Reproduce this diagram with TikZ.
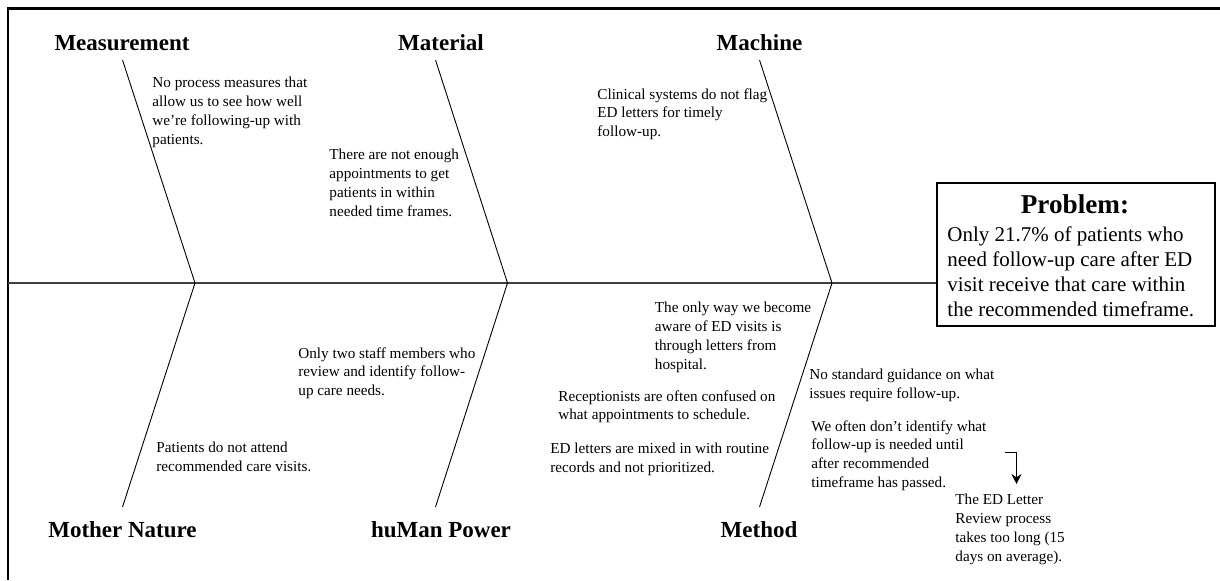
\documentclass[tikz,border=0pt]{standalone}
\usepackage{fontspec}
\setmainfont{Liberation Serif}
\usetikzlibrary{arrows.meta}
\begin{document}
\begin{tikzpicture}[x=0.5pt,y=-0.5pt,
  head/.style={font=\fontsize{11.5}{14}\selectfont\bfseries, inner sep=0pt, anchor=base},
  cause/.style={font=\fontsize{7.6}{9.35}\selectfont, align=left, anchor=north west, inner sep=0pt},
  bone/.style={line width=0.45pt},
  spine/.style={line width=0.7pt, draw=black!75},
  frame/.style={line width=1.1pt},
  probbox/.style={draw, line width=0.75pt, minimum width=139pt, minimum height=71.5pt, inner sep=0pt, anchor=north west},
  probhead/.style={font=\fontsize{13.6}{16}\selectfont\bfseries, inner sep=0pt, anchor=base},
  probtext/.style={font=\fontsize{10.5}{12.5}\selectfont, align=left, anchor=north west, inner sep=0pt},
  elbow/.style={line width=0.9pt, -{Stealth[length=5pt,width=5pt]}},
]
\useasboundingbox (0,0) rectangle (1220,580);

% frame (top and left edges)
\coordinate (ftl) at (8,8.5);
\coordinate (ftr) at (1220,8.5);
\coordinate (fbl) at (8,580);
\draw[frame] (ftr) -- (ftl) -- (fbl);

% problem box
\node[probbox] (prob) at (936,182) {};
\node[probhead] (probh) at (1075,213) {Problem:};
\node[probtext] (probt) at (947,226.5) {Only 21.7\% of patients who\\need follow-up care after ED\\visit receive that care within\\the recommended timeframe.};

% spine
\coordinate (tail) at (8,283);
\draw[spine] (tail) -- (tail -| prob.west);

% bone joints on the spine
\coordinate (j1) at (195,283);
\coordinate (j2) at (507.5,283);
\coordinate (j3) at (832,283);
% bone ends
\coordinate (t1) at (122.5,60);
\coordinate (t2) at (435.5,60);
\coordinate (t3) at (759.5,60);
\coordinate (b1) at (122.5,507);
\coordinate (b2) at (435.5,507);
\coordinate (b3) at (759.5,507);

\draw[bone] (t1) -- (j1) -- (b1);
\draw[bone] (t2) -- (j2) -- (b2);
\draw[bone] (t3) -- (j3) -- (b3);

% category headings
\node[head] (hmeas) at (122,50) {Measurement};
\node[head] (hmat) at (441,50) {Material};
\node[head] (hmach) at (759.5,50) {Machine};
\node[head] (hnat) at (122.5,537) {Mother Nature};
\node[head] (hman) at (441,537) {huMan Power};
\node[head] (hmeth) at (759,537) {Method};

% causes
\node[cause] (c1) at (152,77) {No process measures that\\allow us to see how well\\we’re following-up with\\patients.};
\node[cause] (c2) at (329,149) {There are not enough\\appointments to get\\patients in within\\needed time frames.};
\node[cause] (c3) at (597,88) {Clinical systems do not flag\\ED letters for timely\\follow-up.};
\node[cause] (c4) at (298,347) {Only two staff members who\\review and identify follow-\\up care needs.};
\node[cause] (c5) at (156,442) {Patients do not attend\\recommended care visits.};
\node[cause] (c6) at (654.5,302) {The only way we become\\aware of ED visits is\\through letters from\\hospital.};
\node[cause] (c7) at (558,390) {Receptionists are often confused on\\what appointments to schedule.};
\node[cause] (c8) at (550,443) {ED letters are mixed in with routine\\records and not prioritized.};
\node[cause] (c9) at (809,369) {No standard guidance on what\\issues require follow-up.};
\node[cause] (c10) at (811,420) {We often don’t identify what\\follow-up is needed until\\after recommended\\timeframe has passed.};
\node[cause] (c11) at (955,494) {The ED Letter\\Review process\\takes too long (15\\days on average).};

% elbow arrow
\coordinate (arS) at (1005,452.5);
\coordinate (arE) at (1016.5,484);
\draw[elbow] (arS) -| (arE);
\end{tikzpicture}
\end{document}
